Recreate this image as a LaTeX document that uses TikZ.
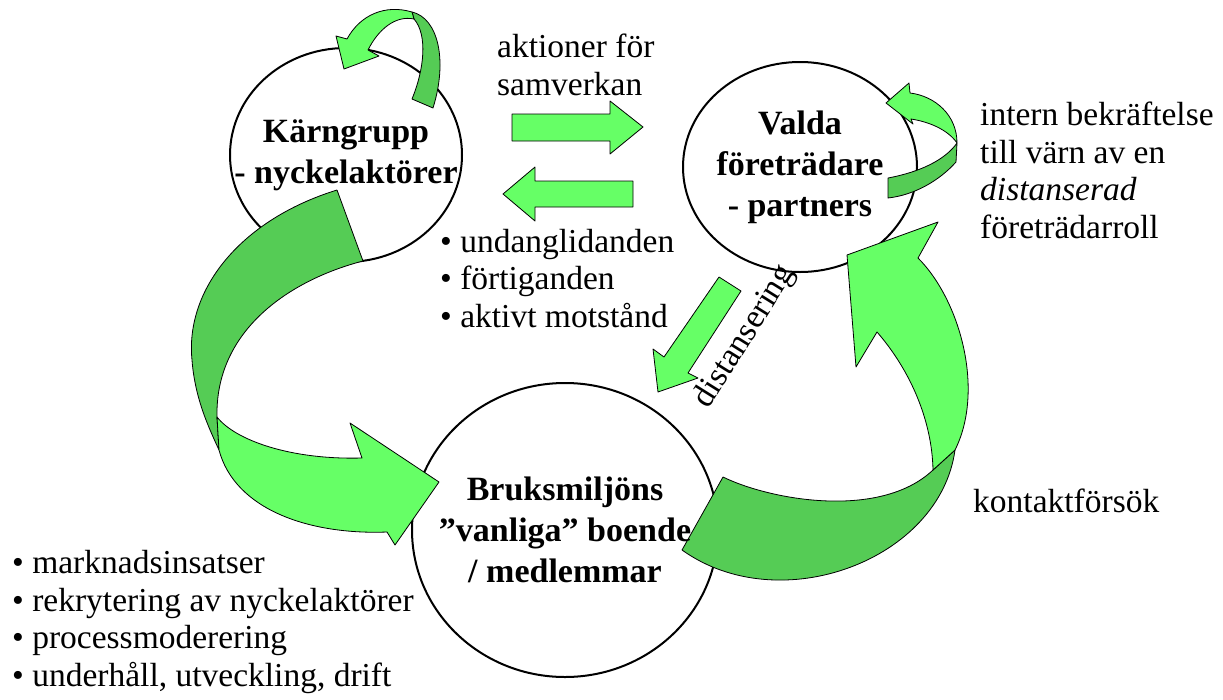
\documentclass[tikz,border=0pt]{standalone}
\usepackage{fontspec}
\setmainfont{Liberation Serif}
\usetikzlibrary{shapes.geometric}
\definecolor{litegreen}{RGB}{102,255,102}
\definecolor{darkgreen}{RGB}{85,204,85}
\tikzset{
  actor/.style={draw,ellipse,line width=2pt,inner sep=0pt},
  title/.style={font=\fontsize{34}{41}\selectfont\bfseries,align=center,inner sep=0pt},
  txt/.style={font=\fontsize{33.5}{37.5}\selectfont,align=left,anchor=base west,inner sep=0pt},
  lite/.style={fill=litegreen,draw=black,line width=0.8pt,line join=round},
  shade/.style={fill=darkgreen,draw=black,line width=0.8pt,line join=round}
}
\begin{document}
\begin{tikzpicture}[x=1pt,y=-1pt]
  \useasboundingbox (0,0) rectangle (1223,699);
  % the three groups
  \node[actor,minimum width=232pt,minimum height=214pt] (karn) at (346,155) {};
  \node[actor,minimum width=234pt,minimum height=210pt] (valda) at (800,167) {};
  \node[actor,minimum width=306pt,minimum height=294pt] (bruk) at (565,530) {};
  % straight arrows
  \draw[lite] (512,114) -- (610,114) -- (610,101) -- (643,127) -- (610,154) -- (610,141) -- (512,141) -- cycle;
  \draw[lite] (633,181) -- (535,181) -- (535,167) -- (503,194) -- (535,221) -- (535,207) -- (633,207) -- cycle;
  \draw[lite] (719,277) -- (741,291) -- (688,373) -- (698,378) -- (658,392) -- (653,349) -- (664,357) -- cycle;
  % loop on karn
  \draw[shade] (412,12) .. controls (438,18) and (448,60) .. (433,108) -- (412,99)
    .. controls (424,70) and (428,35) .. (414,19) -- cycle;
  \draw[lite] (347,39) .. controls (360,15) and (385,4) .. (412,12) -- (414,19)
    .. controls (395,15) and (378,30) .. (368,50) -- (379,56) -- (344,69) -- (336,36) -- cycle;
  % loop on valda
  \draw[shade] (888,178) .. controls (920,172) and (945,160) .. (957,143) -- (956,162)
    .. controls (940,180) and (915,195) .. (888,198) -- cycle;
  \draw[lite] (910,93) .. controls (935,96) and (957,115) .. (957,143)
    .. controls (948,130) and (930,122) .. (911,119) -- (913,124) -- (886,103) -- (909,83) -- cycle;
  % karn -> bruk
  \draw[shade] (337,190) -- (363,261) .. controls (290,280) and (215,330) .. (217,417) -- (219,450)
    .. controls (210,430) and (195,400) .. (192,360) .. controls (185,290) and (240,220) .. (337,190);
  \draw[lite] (217,417) .. controls (235,440) and (290,460) .. (362,458) -- (350,423) -- (439,482)
    -- (395,545) -- (387,532) .. controls (310,535) and (235,510) .. (219,450) -- cycle;
  % bruk -> valda
  \draw[shade] (723,477) .. controls (770,500) and (880,520) .. (933,470) -- (955,450)
    .. controls (940,560) and (780,620) .. (682,550) -- cycle;
  \draw[lite] (933,470) .. controls (932,420) and (910,370) .. (877,332) -- (856,367) -- (847,255)
    -- (938,222) -- (918,258) .. controls (960,300) and (985,390) .. (955,450) -- cycle;
  % texts
  \node[title] (karnT) at (karn.center) {Kärngrupp\\- nyckelaktörer};
  \node[title] (valdaT) at (valda.center) {Valda\\företrädare\\- partners};
  \node[title] (brukT) at (bruk.center) {Bruksmiljöns\\”vanliga” boende\\/ medlemmar};
  \node[txt] (samv) at (497,95) {aktioner för\\samverkan};
  \node[txt] (intern) at (980,238) {intern bekräftelse\\till värn av en\\\textit{distanserad}\\företrädarroll};
  \node[txt] (motst) at (440,327) {• undanglidanden\\• förtiganden\\• aktivt motstånd};
  \node[txt] (insats) at (12,686) {• marknadsinsatser\\• rekrytering av nyckelaktörer\\• processmoderering\\• underhåll, utveckling, drift};
  \node[txt] (kontakt) at (973,512) {kontaktförsök};
  \node[font=\fontsize{33.5}{38}\selectfont,rotate=58,inner sep=0pt] (dist) at (745,337) {distansering};
\end{tikzpicture}
\end{document}
